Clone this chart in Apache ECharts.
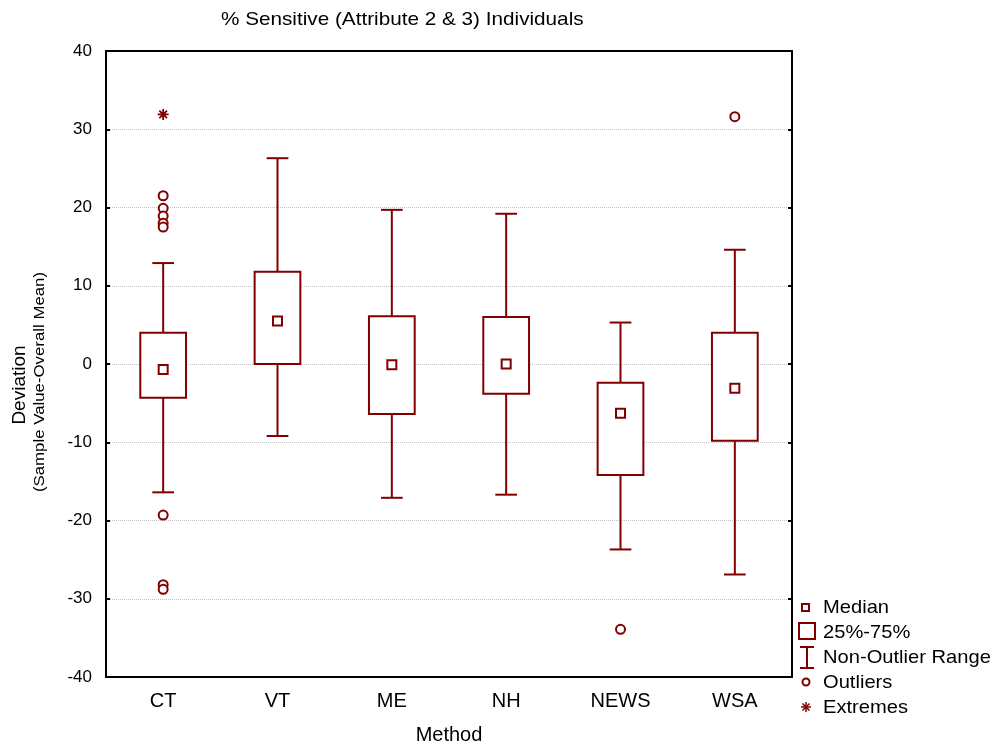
<!DOCTYPE html>
<html>
<head>
<meta charset="utf-8">
<script src="https://cdn.jsdelivr.net/npm/echarts@6/dist/echarts.min.js"></script>
<style>
  html, body { margin: 0; padding: 0; background: #fff; }
  #chart { width: 998px; height: 747px; }
</style>
</head>
<body>
<div id="chart"></div>
<script>
// 方法分类
const categories = ["CT", "VT", "ME", "NH", "NEWS", "WSA"];
// 非异常范围 + 四分位
const lows    = [-16.4, -9.2, -17.1, -16.7, -23.7, -26.9];
const q1s     = [-4.3, 0.0, -6.4, -3.8, -14.2, -9.8];
const medians = [-0.7, 5.5, -0.1, 0.0, -6.3, -3.1];
const q3s     = [4.0, 11.8, 6.1, 6.0, -2.4, 4.0];
const highs   = [12.9, 26.3, 19.7, 19.2, 5.3, 14.6];
// 异常值 [分类序号, 值]
const outliers = [
  [0, 21.5], [0, 19.9], [0, 18.9], [0, 18.0], [0, 17.5],
  [0, -19.3], [0, -28.2], [0, -28.8],
  [4, -33.9],
  [5, 31.6],
];
// 极端值
const extremes = [[0, 31.9]];
// y轴刻度
const yTicks = [-40, -30, -20, -10, 0, 10, 20, 30, 40];

const RED = "#800000";
const FONT = "Arial, 'Liberation Sans', sans-serif";

const boxData = categories.map((c, i) => [i, lows[i], q1s[i], medians[i], q3s[i], highs[i]]);
const medianData = categories.map((c, i) => [i, medians[i]]);

// 画箱体和须线
const renderBox = (params, api) => {
  const idx = api.value(0);
  const low = api.coord([idx, api.value(1)]);
  const q1 = api.coord([idx, api.value(2)]);
  const q3 = api.coord([idx, api.value(4)]);
  const high = api.coord([idx, api.value(5)]);
  const band = api.size([1, 0])[0];
  const bw = band * 0.4;
  const cw = band * 0.19;
  const x = low[0];
  const line = { stroke: RED, lineWidth: 2 };
  return {
    type: "group",
    children: [
      { type: "line", shape: { x1: x, y1: low[1], x2: x, y2: q1[1] }, style: line },
      { type: "line", shape: { x1: x, y1: q3[1], x2: x, y2: high[1] }, style: line },
      { type: "line", shape: { x1: x - cw / 2, y1: low[1], x2: x + cw / 2, y2: low[1] }, style: line },
      { type: "line", shape: { x1: x - cw / 2, y1: high[1], x2: x + cw / 2, y2: high[1] }, style: line },
      {
        type: "rect",
        shape: { x: x - bw / 2, y: q3[1], width: bw, height: q1[1] - q3[1] },
        style: { fill: "#fff", stroke: RED, lineWidth: 2 },
      },
    ],
  };
};

const starPath = "path://M0 5 L10 5 M5 0 L5 10 M1.5 1.5 L8.5 8.5 M8.5 1.5 L1.5 8.5";

const legendItems = ["Median", "25%-75%", "Non-Outlier Range", "Outliers", "Extremes"];
const legendY = [608, 633, 658, 683, 708];

const legendGraphics = [
  { type: "rect", shape: { x: 802, y: 604, width: 7, height: 7 }, style: { fill: "#fff", stroke: RED, lineWidth: 2 } },
  { type: "rect", shape: { x: 799, y: 623, width: 16, height: 16 }, style: { fill: "#fff", stroke: RED, lineWidth: 2 } },
  { type: "line", shape: { x1: 807, y1: 647, x2: 807, y2: 668 }, style: { stroke: RED, lineWidth: 2 } },
  { type: "line", shape: { x1: 800, y1: 647, x2: 814, y2: 647 }, style: { stroke: RED, lineWidth: 2 } },
  { type: "line", shape: { x1: 800, y1: 668, x2: 814, y2: 668 }, style: { stroke: RED, lineWidth: 2 } },
  { type: "circle", shape: { cx: 806, cy: 682, r: 3.5 }, style: { fill: "#fff", stroke: RED, lineWidth: 2 } },
  {
    type: "group", x: 801, y: 702,
    children: [
      { type: "line", shape: { x1: 0, y1: 5, x2: 10, y2: 5 }, style: { stroke: RED, lineWidth: 1.5 } },
      { type: "line", shape: { x1: 5, y1: 0, x2: 5, y2: 10 }, style: { stroke: RED, lineWidth: 1.5 } },
      { type: "line", shape: { x1: 1.5, y1: 1.5, x2: 8.5, y2: 8.5 }, style: { stroke: RED, lineWidth: 1.5 } },
      { type: "line", shape: { x1: 8.5, y1: 1.5, x2: 1.5, y2: 8.5 }, style: { stroke: RED, lineWidth: 1.5 } },
    ],
  },
].concat(legendItems.map((t, i) => ({
  type: "text",
  x: 823,
  y: legendY[i],
  style: { text: t, font: "19px " + FONT, fill: "#000", textVerticalAlign: "middle" },
  scaleX: 1.06,
})));

const option = {
  backgroundColor: "#fff",
  animation: false,
  grid: { left: 106, top: 51, right: 206, bottom: 70, outerBoundsMode: "none", containLabel: false },
  xAxis: [
    {
      type: "category",
      data: categories,
      name: "Method",
      nameLocation: "middle",
      nameGap: 48,
      nameTextStyle: { fontSize: 20, fontFamily: FONT, color: "#000" },
      axisLine: { onZero: false, lineStyle: { color: "#000", width: 2 } },
      axisTick: { inside: true, alignWithLabel: true, length: 4, lineStyle: { color: "#000", width: 2 } },
      axisLabel: { fontSize: 20, fontFamily: FONT, color: "#000", margin: 14 },
      splitLine: { show: false },
    },
    {
      type: "category",
      data: categories,
      position: "top",
      axisLine: { onZero: false, lineStyle: { color: "#000", width: 2 } },
      axisTick: { inside: true, alignWithLabel: true, length: 4, lineStyle: { color: "#000", width: 2 } },
      axisLabel: { show: false },
    },
  ],
  yAxis: [
    {
      type: "value",
      min: yTicks[0],
      max: yTicks[yTicks.length - 1],
      interval: 10,
      axisLine: { show: true, onZero: false, lineStyle: { color: "#000", width: 2 } },
      axisTick: { show: true, inside: true, length: 4, lineStyle: { color: "#000", width: 2 } },
      axisLabel: { fontSize: 17, fontFamily: FONT, color: "#000", margin: 14 },
      splitLine: { show: true, lineStyle: { color: "#c4c4c4", type: "dotted", width: 1 } },
    },
    {
      type: "value",
      position: "right",
      min: yTicks[0],
      max: yTicks[yTicks.length - 1],
      interval: 10,
      axisLine: { show: true, onZero: false, lineStyle: { color: "#000", width: 2 } },
      axisTick: { show: true, inside: true, length: 4, lineStyle: { color: "#000", width: 2 } },
      axisLabel: { show: false },
      splitLine: { show: false },
    },
  ],
  series: [
    {
      type: "custom",
      renderItem: renderBox,
      data: boxData,
      encode: { x: 0, y: [1, 2, 3, 4, 5] },
      z: 2,
    },
    {
      type: "scatter",
      data: medianData,
      symbol: "rect",
      symbolSize: 9,
      itemStyle: { color: "#fff", borderColor: RED, borderWidth: 2, opacity: 1 },
      z: 3,
    },
    {
      type: "scatter",
      data: outliers,
      symbol: "circle",
      symbolSize: 9,
      itemStyle: { color: "#fff", borderColor: RED, borderWidth: 2, opacity: 1 },
      z: 3,
    },
    {
      type: "scatter",
      data: extremes,
      symbol: starPath,
      symbolSize: 11,
      itemStyle: { color: RED, borderColor: RED, borderWidth: 1.8, opacity: 1 },
      z: 3,
    },
  ],
  graphic: [
    {
      type: "text",
      x: 221,
      y: 20,
      style: { text: "% Sensitive (Attribute 2 & 3) Individuals", font: "19px " + FONT, fill: "#000", textVerticalAlign: "middle" },
      scaleX: 1.09,
    },
    {
      type: "text",
      x: 20,
      y: 385,
      rotation: Math.PI / 2,
      style: { text: "Deviation", font: "19px " + FONT, fill: "#000", textAlign: "center", textVerticalAlign: "middle" },
    },
    {
      type: "text",
      x: 40,
      y: 382,
      rotation: Math.PI / 2,
      style: { text: "(Sample Value-Overall Mean)", font: "14px " + FONT, fill: "#000", textAlign: "center", textVerticalAlign: "middle" },
      scaleX: 1.2,
    },
  ].concat(legendGraphics),
};

const chart = echarts.init(document.getElementById("chart"), null, { renderer: "canvas" });
chart.setOption(option);
</script>
</body>
</html>
